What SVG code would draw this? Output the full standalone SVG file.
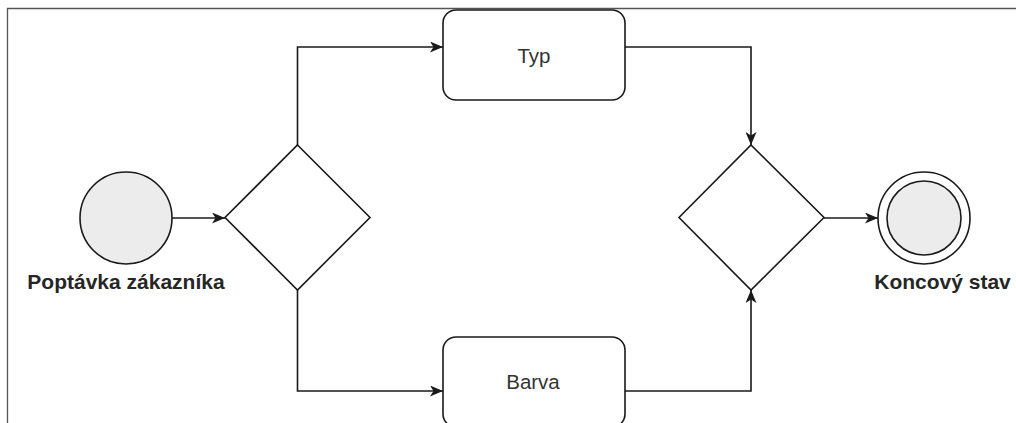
<svg xmlns="http://www.w3.org/2000/svg" width="1016" height="423" viewBox="0 0 1016 423">
  <style>
    .frame { fill: none; stroke: #555555; stroke-width: 1.3; }
    .shape { fill: #ffffff; stroke: #1a1a1a; stroke-width: 1.6; }
    .event { fill: #ececec; stroke: #1a1a1a; stroke-width: 1.6; }
    .edge { fill: none; stroke: #1a1a1a; stroke-width: 1.6; }
    .task-label { font-family: "Liberation Sans", Arial, sans-serif; font-size: 20.5px; fill: #333333; text-anchor: middle; }
    .event-label { font-family: "Liberation Sans", Arial, sans-serif; font-size: 21px; font-weight: bold; fill: #262626; text-anchor: middle; }
  </style>
  <defs>
    <marker id="arrow" viewBox="0 0 13 11" refX="13" refY="5.5" markerWidth="13" markerHeight="11" markerUnits="userSpaceOnUse" orient="auto">
      <path d="M0,0 L13,5.5 L0,11 L3.5,5.5 Z" fill="#1a1a1a"/>
    </marker>
  </defs>

  <rect width="1016" height="423" fill="#ffffff"/>
  <!-- page border -->
  <path class="frame" d="M7.5,423 V8.5 H1016"/>

  <g id="connectors">
    <path class="edge" d="M172,218 H225" marker-end="url(#arrow)"/>
    <path class="edge" d="M297.5,145 V47 H443" marker-end="url(#arrow)"/>
    <path class="edge" d="M297.5,290 V391 H443" marker-end="url(#arrow)"/>
    <path class="edge" d="M625,47 H751 V145" marker-end="url(#arrow)"/>
    <path class="edge" d="M625,391 H751 V290" marker-end="url(#arrow)"/>
    <path class="edge" d="M824,218 H878" marker-end="url(#arrow)"/>
  </g>

  <g id="start">
    <circle class="event" cx="126" cy="218" r="46"/>
    <text class="event-label" x="126" y="289">Poptávka zákazníka</text>
  </g>

  <g id="split">
    <path class="shape" d="M297.5,145 L370,217.5 L297.5,290 L225,217.5 Z"/>
  </g>

  <g id="typ">
    <rect class="shape" x="443" y="10" width="182" height="90" rx="13" ry="13"/>
    <text class="task-label" x="534" y="63">Typ</text>
  </g>

  <g id="barva">
    <rect class="shape" x="443" y="337" width="182" height="90" rx="13" ry="13"/>
    <text class="task-label" x="533" y="389">Barva</text>
  </g>

  <g id="join">
    <path class="shape" d="M751,145 L824,217.5 L751,290 L679,217.5 Z"/>
  </g>

  <g id="end">
    <circle class="shape" cx="924" cy="218" r="46"/>
    <circle class="event" cx="924" cy="218" r="37"/>
    <text class="event-label" x="942.5" y="289">Koncový stav</text>
  </g>
</svg>
